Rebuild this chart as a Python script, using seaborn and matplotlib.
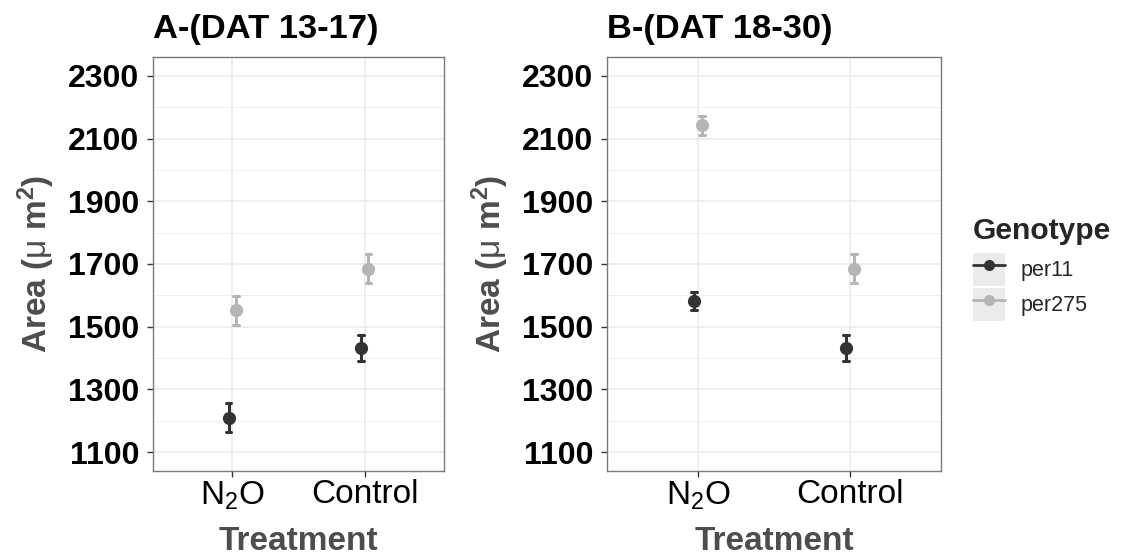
import numpy as np
import pandas as pd
import matplotlib
matplotlib.use("Agg")
import matplotlib.pyplot as plt
import seaborn as sns
from matplotlib.lines import Line2D
from matplotlib.patches import Rectangle
from matplotlib.legend_handler import HandlerTuple
from matplotlib.ticker import FixedLocator

# ---- data -------------------------------------------------------------
treatments = ["N2O", "Control"]
treatment_labels = [r"N$_2$O", "Control"]
genotypes = ["per11", "per275"]
panel_titles = ["A-(DAT 13-17)", "B-(DAT 18-30)"]

# mean leaf area (um^2) per treatment, and its standard error
mean_a_per11 = [1210, 1432]
se_a_per11 = [46, 42]
mean_a_per275 = [1553, 1685]
se_a_per275 = [46, 46]

mean_b_per11 = [1583, 1432]
se_b_per11 = [29, 42]
mean_b_per275 = [2142, 1685]
se_b_per275 = [30, 46]

y_ticks = [1100, 1300, 1500, 1700, 1900, 2100, 2300]
y_minor = [1200, 1400, 1600, 1800, 2000, 2200]

colors = {"per11": "#333333", "per275": "#b5b5b5"}


def build_frame(means, ses):
    """Rows mean-se, mean, mean+se per group: the mean and the full
    range of these three values give the point and its error bar."""
    rows = []
    for g in genotypes:
        for t, m, s in zip(treatments, means[g], ses[g]):
            for v in (m - s, m, m + s):
                rows.append({"Treatment": t, "Genotype": g, "Area": v})
    return pd.DataFrame(rows)


frames = [
    build_frame({"per11": mean_a_per11, "per275": mean_a_per275},
                {"per11": se_a_per11, "per275": se_a_per275}),
    build_frame({"per11": mean_b_per11, "per275": mean_b_per275},
                {"per11": se_b_per11, "per275": se_b_per275}),
]

# ---- style ------------------------------------------------------------
sns.set_theme(style="white")
plt.rcParams["font.family"] = ["Liberation Sans", "DejaVu Sans"]
plt.rcParams["mathtext.fontset"] = "custom"
plt.rcParams["mathtext.rm"] = "Liberation Sans"
plt.rcParams["mathtext.it"] = "Liberation Sans:italic"
plt.rcParams["mathtext.bf"] = "Liberation Sans:bold"

fig = plt.figure(figsize=(11.31, 5.55), dpi=100)
W, H = 1131, 555
panel_px = [(153, 444), (607, 941)]
top_px, bottom_px = 57, 471

for (x0, x1), df, title in zip(panel_px, frames, panel_titles):
    ax = fig.add_axes([x0 / W, 1 - bottom_px / H, (x1 - x0) / W,
                       (bottom_px - top_px) / H])
    ax.set_axisbelow(True)
    sns.pointplot(
        data=df, x="Treatment", y="Area", hue="Genotype",
        order=treatments, hue_order=genotypes, palette=colors,
        estimator="mean", errorbar=("pi", 100),
        dodge=0.055, linestyle="none", markers="o",
        markersize=9.5, markeredgewidth=0,
        capsize=0.04, err_kws={"linewidth": 2.2},
        legend=False, ax=ax,
    )
    ax.set_xlim(-0.6, 1.6)
    ax.set_ylim(1040, 2360)
    ax.set_xticks(range(len(treatments)))
    ax.set_xticklabels(treatment_labels, fontsize=24, color="black")
    ax.yaxis.set_major_locator(FixedLocator(y_ticks))
    ax.yaxis.set_minor_locator(FixedLocator(y_minor))
    ax.set_yticklabels([str(v) for v in y_ticks], fontsize=23,
                       fontweight="bold", color="black")
    ax.grid(True, which="major", color="#ebebeb", linewidth=1.1)
    ax.grid(True, which="minor", axis="y", color="#f0f0f0", linewidth=0.7)
    ax.tick_params(axis="both", which="major", length=4, width=1,
                   color="#333333", pad=2, left=True, bottom=True)
    ax.tick_params(axis="y", which="major", pad=6)
    ax.tick_params(axis="y", which="minor", length=0)
    for sp in ax.spines.values():
        sp.set_visible(True)
        sp.set_color("#7a7a7a")
        sp.set_linewidth(1.0)
    ax.set_xlabel("Treatment", fontsize=24, fontweight="bold",
                  color="#4d4d4d", labelpad=10)
    ax.set_ylabel(r"Area ($\mathrm{\mu}$ $\mathbf{m}^{\mathbf{2}}$)",
                  fontsize=24, fontweight="bold", color="#4d4d4d",
                  labelpad=8)
    ax.set_title(title, loc="left", fontsize=24.8, fontweight="bold",
                 color="black", pad=14)

# ---- legend -----------------------------------------------------------
handles = [
    (Rectangle((0, 0), 1, 1, facecolor="#ebebeb", edgecolor="none"),
     Line2D([], [], color=colors[g], marker="o", markersize=8,
            linewidth=2, markeredgewidth=0))
    for g in genotypes
]
leg = fig.legend(
    handles=handles, labels=genotypes,
    handler_map={tuple: HandlerTuple(ndivide=1, pad=0)},
    title="Genotype", title_fontproperties={"weight": "bold", "size": 21.6},
    prop={"size": 15.5}, loc="upper left",
    bbox_to_anchor=(973 / W, 1 - 217 / H), frameon=False, borderpad=0,
    borderaxespad=0,
    handlelength=1.5, handleheight=1.95, labelspacing=0.1,
    handletextpad=0.7, alignment="left",
)
# a little more room between the legend title and its keys
leg._legend_box.sep = 6

fig.savefig("out.png", dpi=100)
